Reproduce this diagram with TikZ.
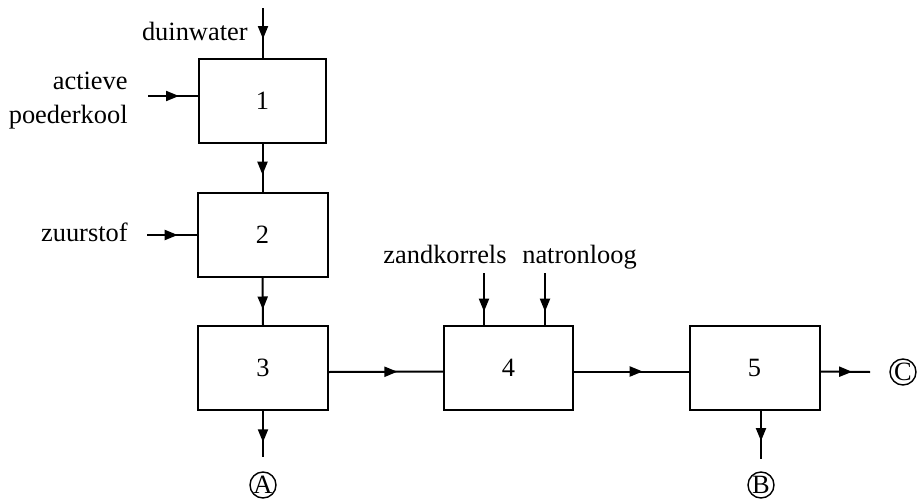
\documentclass[tikz,border=0pt]{standalone}
\usepackage{fontspec}
\setmainfont{Liberation Serif}
\usetikzlibrary{arrows.meta,decorations.markings}
\begin{document}
\begin{tikzpicture}[x=0.5pt,y=-0.5pt,
  font=\fontsize{13.2}{17}\selectfont,
  box/.style={draw,line width=1pt,rectangle,minimum width=65pt,minimum height=42pt,inner sep=0pt},
  endpt/.style={draw,circle,line width=0.7pt,minimum size=13pt,inner sep=0pt},
  flow/.style={line width=1pt,postaction={decorate},
    decoration={markings,mark=at position #1 with {\arrow{Triangle[length=6.5pt,width=5pt]}}}},
  flow/.default=0.62]
\useasboundingbox (0,0) rectangle (921,503);
% boxes
\node[box,minimum width=63.5pt] (b1) at (262.5,101) {1};
\node[box] (b2) at (262.5,235) {2};
\node[box] (b3) at (263,368) {3};
\node[box,minimum width=64.5pt] (b4) at (508.5,367.5) {4};
\node[box] (b5) at (754.5,367.5) {5};
% labels
\node[anchor=base east,inner sep=0pt] (ldw) at (248,40) {duinwater};
\node[anchor=east,align=right,inner sep=0pt] (lapk) at (128,101) {actieve\\poederkool};
\node[anchor=base east,inner sep=0pt] (lzs) at (128,241) {zuurstof};
\node[anchor=base,inner sep=0pt] (lzk) at (445,263) {zandkorrels};
\node[anchor=base,inner sep=0pt] (lnl) at (579.5,263) {natronloog};
% end points
\node[endpt] (A) at (263,485) {A};
\node[endpt] (B) at (761,485) {B};
\node[endpt] (C) at (903,372) {C};
% free ends
\coordinate (dw) at (263,8);
\coordinate (apk) at (148,96);
\coordinate (zs) at (147,235);
\coordinate (zk) at (484,273);
\coordinate (nl) at (545,273);
\coordinate (aend) at (263,457);
\coordinate (bend) at (761,459);
\coordinate (cend) at (870,372);
% connectors
\draw[flow] (dw) -- (dw |- b1.north);
\draw[flow] (apk) -- (apk -| b1.west);
\draw[flow=0.64] (b1.south) -- (b2.north);
\draw[flow] (zs) -- (zs -| b2.west);
\draw[flow=0.67] (b2.south) -- (b3.north);
\draw[flow=0.68] (b3.south) -- (aend);
\draw[flow=0.6] ([yshift=-2pt]b3.east) -- ([yshift=-2pt]b4.west);
\draw[flow=0.75] (zk) -- (zk |- b4.north);
\draw[flow=0.75] (nl) -- (nl |- b4.north);
\draw[flow=0.6] ([yshift=-2pt]b4.east) -- ([yshift=-2pt]b5.west);
\draw[flow=0.64] ([yshift=-2pt]b5.east) -- (cend);
\draw[flow=0.63] (bend |- b5.south) -- (bend);
\end{tikzpicture}
\end{document}
